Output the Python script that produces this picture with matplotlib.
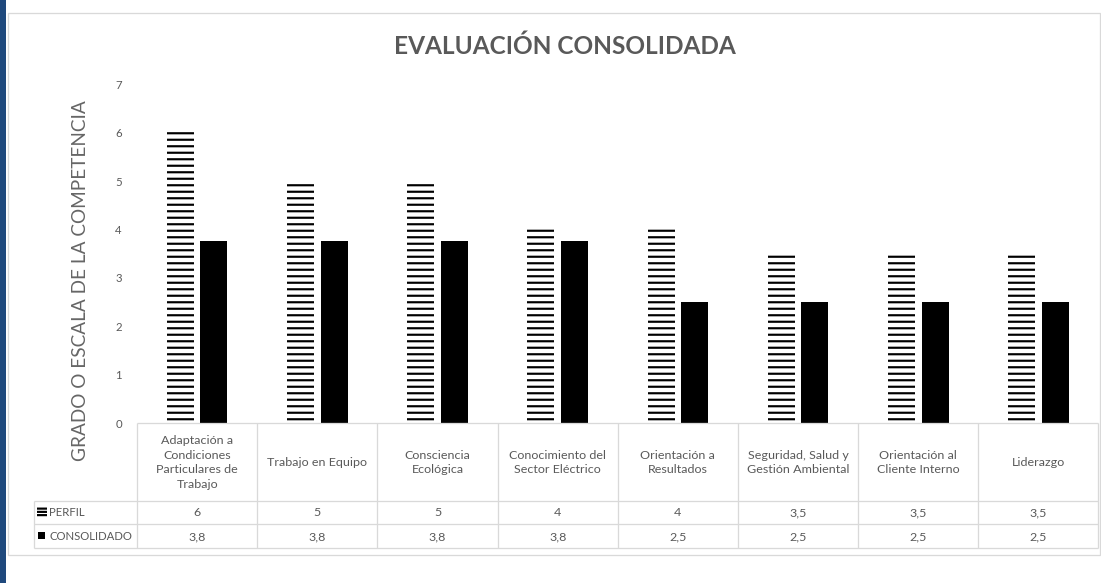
import numpy as np
import matplotlib
matplotlib.use('Agg')
from matplotlib import pyplot as plt
from matplotlib.patches import Rectangle

competencias = ['Adaptación a\nCondiciones\nParticulares de\nTrabajo', 'Trabajo en Equipo',
                'Consciencia\nEcológica', 'Conocimiento del\nSector Eléctrico',
                'Orientación a\nResultados', 'Seguridad, Salud y\nGestión Ambiental',
                'Orientación al\nCliente Interno', 'Liderazgo']
perfil = [6, 5, 5, 4, 4, 3.5, 3.5, 3.5]
consolidado = [3.75, 3.75, 3.75, 3.75, 2.5, 2.5, 2.5, 2.5]
series = ['PERFIL', 'CONSOLIDADO']
y_ticks = list(range(8))

W, H, DPI = 1101, 583, 78
GRAY = '#595959'
LINE = '#D9D9D9'

plt.rcParams['font.family'] = ['Lato', 'DejaVu Sans']
plt.rcParams['hatch.linewidth'] = 2.0


def fx(px):
    return px / W


def fy(py):
    return 1 - py / H


def fmt(v):
    s = f'{v:.1f}'
    if s.endswith('.0'):
        s = s[:-2]
    return s.replace('.', ',')


fig = plt.figure(figsize=((W + 0.5) / DPI, (H + 0.5) / DPI), dpi=DPI)
fig.patches.append(Rectangle((0, 0), fx(6), 1, transform=fig.transFigure,
                             facecolor='#1F497D', edgecolor='none'))
fig.patches.append(Rectangle((fx(8), fy(555)), fx(1100) - fx(8), fy(13) - fy(555),
                             transform=fig.transFigure, fill=False, edgecolor=LINE, lw=1.2))

fig.text(fx(565), fy(46), 'EVALUACIÓN CONSOLIDADA', ha='center', va='center',
         fontsize=22.5, fontweight='bold', color=GRAY)
fig.text(fx(80), fy(280), 'GRADO O ESCALA DE LA COMPETENCIA', ha='center', va='center',
         rotation=90, fontsize=17.5, color='#666666')

# bar area
ax = fig.add_axes([fx(137), fy(423), fx(1098) - fx(137), fy(84) - fy(423)])
x = np.arange(len(competencias))
ax.bar(x - 0.14, perfil, 0.225, facecolor='white', edgecolor='black', hatch='--', lw=0)
ax.bar(x + 0.14, consolidado, 0.225, color='black')
ax.set_xlim(-0.5, len(competencias) - 0.5)
ax.set_ylim(0, 7)
ax.set_yticks(y_ticks)
ax.set_xticks([])
ax.tick_params(axis='y', length=0, pad=14, labelsize=10.5, labelcolor=GRAY)
for s in ax.spines.values():
    s.set_visible(False)

# data table under the bars
tax = fig.add_axes([fx(137), fy(548), fx(1098) - fx(137), fy(423) - fy(548)])
tax.set_xlim(-0.5, len(competencias) - 0.5)
tax.set_ylim(548, 423)
tax.axis('off')


def xd(px):
    return -0.5 + (px - 137) * len(competencias) / (1098 - 137)


left_x = xd(34)
tax.hlines([423], -0.5, 7.5, color=LINE, lw=1.2, clip_on=False)
tax.hlines([501, 524, 548], left_x, 7.5, color=LINE, lw=1.2, clip_on=False)
tax.vlines(np.arange(-0.5, 8.5, 1), 423, 548, color=LINE, lw=1.2, clip_on=False)
tax.vlines([left_x], 501, 548, color=LINE, lw=1.2, clip_on=False)

for i, cat in enumerate(competencias):
    tax.text(i, 462, cat, ha='center', va='center', fontsize=11.5, linespacing=1.4,
             color=GRAY, clip_on=False)
    tax.text(i, 512.5, fmt(perfil[i]), ha='center', va='center', fontsize=11.5, color=GRAY)
    tax.text(i, 536, fmt(consolidado[i]), ha='center', va='center', fontsize=11.5, color=GRAY)

tax.add_patch(Rectangle((xd(37), 507), xd(47) - xd(37), 10, facecolor='white',
                        edgecolor='black', hatch='----', lw=0, clip_on=False))
tax.add_patch(Rectangle((xd(38), 532), xd(45) - xd(38), 7, facecolor='black',
                        lw=0, clip_on=False))
for name, yy in zip(series, [512.5, 536]):
    tax.text(xd(49), yy, name, ha='left', va='center', fontsize=10.5, color=GRAY,
             clip_on=False)

fig.savefig('out.png', dpi=DPI, facecolor='white')
